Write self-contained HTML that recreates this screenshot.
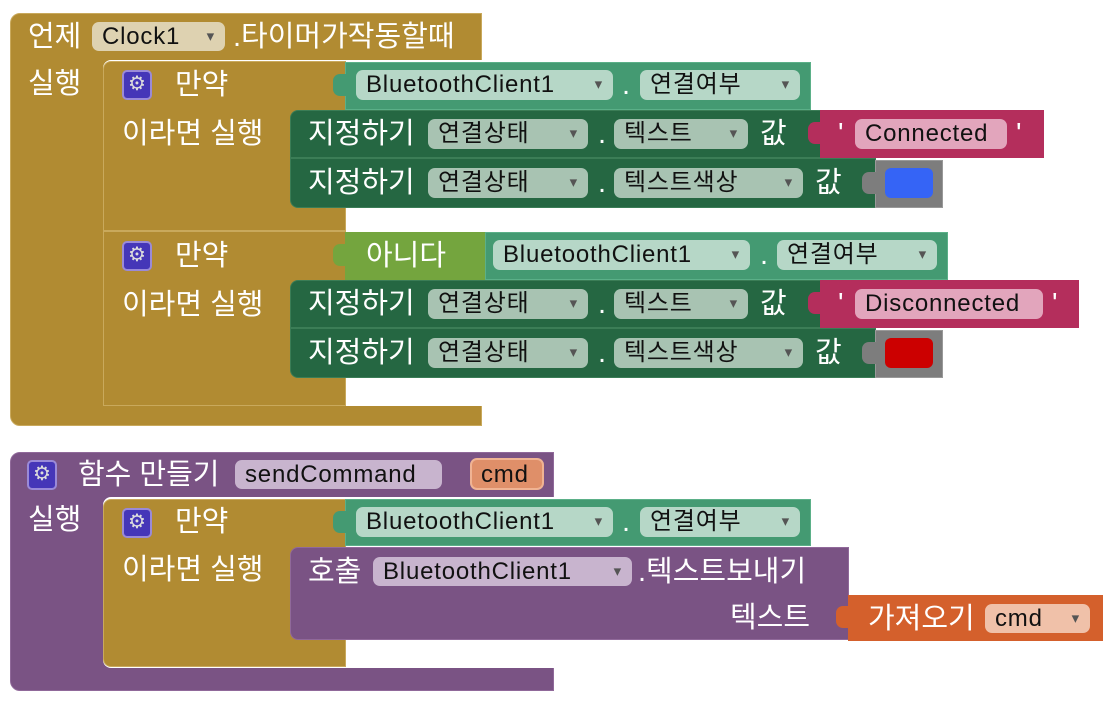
<!DOCTYPE html>
<html><head><meta charset="utf-8">
<style>
body{margin:0;width:1110px;height:703px;background:#fff;position:relative;overflow:hidden;font-family:"Liberation Sans","Noto Sans CJK KR","NanumGothic",sans-serif;}
div{position:absolute;box-sizing:border-box;}
.t{color:#fff;font-size:29px;line-height:30px;white-space:nowrap;margin-top:2px;}
.p{border-radius:7px;color:#111;font-size:24px;letter-spacing:0.8px;line-height:30px;padding-left:10px;white-space:nowrap;}
.dd::after{content:"▾";position:absolute;right:10px;top:0;font-size:15px;color:#555;}
.gold{background:#b18b32;border:1px solid #c9a95c;}
.teal{background:#449a72;border:1px solid #5bb088;}
.dg{background:#256742;border:1px solid #3b7d56;}
.pur{background:#7a5384;border:1px solid #90699a;}
.gear{width:30px;height:30px;background:#4536b8;border:2px solid #9a8ad8;border-radius:5px;color:#ddd;font-size:20px;line-height:25px;text-align:center;}
.tab{width:14px;height:22px;border-radius:7px 0 0 7px;}
</style></head><body>

<div class="gold" style="left:10px;top:13px;width:472px;height:413px;border-radius:10px 0 0 10px;"></div>
<div style="left:103px;top:60px;width:379px;height:346px;background:#fff;border-radius:8px 0 0 8px;"></div>
<div class="t" style="left:28px;top:20px;">언제</div>
<div class="p dd" style="left:92px;top:22px;width:133px;height:29px;background:#ded2b1;">Clock1</div>
<div class="t" style="left:233px;top:20px;">.타이머가작동할때</div>
<div class="t" style="left:28px;top:67px;">실행</div>

<div class="gold" style="left:103px;top:61px;width:243px;height:170px;border-radius:8px 0 0 0;"></div>
<div class="gear" style="left:122px;top:70px;">⚙</div>
<div class="t" style="left:175px;top:68px;">만약</div>
<div class="t" style="left:122px;top:117px;">이라면 실행</div>
<div class="teal" style="left:345px;top:62px;width:466px;height:48px;"></div>
<div class="tab" style="left:333px;top:74px;background:#449a72;"></div>
<div class="p dd" style="left:356px;top:70px;width:257px;height:30px;background:#b6d7c7;">BluetoothClient1</div>
<div class="t" style="left:622px;top:68px;">.</div>
<div class="p dd" style="left:640px;top:70px;width:160px;height:30px;background:#b6d7c7;">연결여부</div>

<div class="dg" style="left:290px;top:110px;width:586px;height:48px;border-radius:8px 0 0 0;"></div>
<div class="t" style="left:308px;top:117px;">지정하기</div>
<div class="p dd" style="left:428px;top:119px;width:160px;height:30px;background:#a8c3b2;">연결상태</div>
<div class="t" style="left:598px;top:117px;">.</div>
<div class="p dd" style="left:614px;top:119px;width:134px;height:30px;background:#a8c3b2;">텍스트</div>
<div class="t" style="left:760px;top:117px;">값</div>
<div style="left:820px;top:110px;width:224px;height:48px;background:#b42e5c;"></div>
<div class="tab" style="left:808px;top:122px;background:#b42e5c;"></div>
<div class="t" style="left:838px;top:117px;">'</div>
<div class="p" style="left:855px;top:119px;width:152px;height:30px;background:#e2a5bc;">Connected</div>
<div class="t" style="left:1016px;top:117px;">'</div>

<div class="dg" style="left:290px;top:158px;width:586px;height:50px;border-radius:0 0 0 8px;"></div>
<div class="t" style="left:308px;top:166px;">지정하기</div>
<div class="p dd" style="left:428px;top:168px;width:160px;height:30px;background:#a8c3b2;">연결상태</div>
<div class="t" style="left:598px;top:166px;">.</div>
<div class="p dd" style="left:614px;top:168px;width:189px;height:30px;background:#a8c3b2;">텍스트색상</div>
<div class="t" style="left:815px;top:166px;">값</div>
<div style="left:875px;top:160px;width:68px;height:48px;background:#7d7d7d;border:1px solid #999;"></div>
<div class="tab" style="left:862px;top:172px;background:#7d7d7d;"></div>
<div style="left:885px;top:168px;width:48px;height:30px;background:#3564f6;border-radius:6px;"></div>

<div class="gold" style="left:103px;top:231px;width:243px;height:175px;"></div>
<div class="gear" style="left:122px;top:241px;">⚙</div>
<div class="t" style="left:175px;top:239px;">만약</div>
<div class="t" style="left:122px;top:288px;">이라면 실행</div>
<div style="left:345px;top:232px;width:141px;height:48px;background:#74a53e;"></div>
<div class="tab" style="left:333px;top:244px;background:#74a53e;"></div>
<div class="t" style="left:366px;top:239px;">아니다</div>
<div class="teal" style="left:485px;top:232px;width:463px;height:48px;"></div>
<div class="p dd" style="left:493px;top:240px;width:257px;height:30px;background:#b6d7c7;">BluetoothClient1</div>
<div class="t" style="left:760px;top:238px;">.</div>
<div class="p dd" style="left:777px;top:240px;width:160px;height:30px;background:#b6d7c7;">연결여부</div>

<div class="dg" style="left:290px;top:280px;width:586px;height:48px;border-radius:8px 0 0 0;"></div>
<div class="t" style="left:308px;top:287px;">지정하기</div>
<div class="p dd" style="left:428px;top:289px;width:160px;height:30px;background:#a8c3b2;">연결상태</div>
<div class="t" style="left:598px;top:287px;">.</div>
<div class="p dd" style="left:614px;top:289px;width:134px;height:30px;background:#a8c3b2;">텍스트</div>
<div class="t" style="left:760px;top:287px;">값</div>
<div style="left:820px;top:280px;width:259px;height:48px;background:#b42e5c;"></div>
<div class="tab" style="left:808px;top:292px;background:#b42e5c;"></div>
<div class="t" style="left:838px;top:287px;">'</div>
<div class="p" style="left:855px;top:289px;width:188px;height:30px;background:#e2a5bc;">Disconnected</div>
<div class="t" style="left:1052px;top:287px;">'</div>

<div class="dg" style="left:290px;top:328px;width:586px;height:50px;border-radius:0 0 0 8px;"></div>
<div class="t" style="left:308px;top:336px;">지정하기</div>
<div class="p dd" style="left:428px;top:338px;width:160px;height:30px;background:#a8c3b2;">연결상태</div>
<div class="t" style="left:598px;top:336px;">.</div>
<div class="p dd" style="left:614px;top:338px;width:189px;height:30px;background:#a8c3b2;">텍스트색상</div>
<div class="t" style="left:815px;top:336px;">값</div>
<div style="left:875px;top:330px;width:68px;height:48px;background:#7d7d7d;border:1px solid #999;"></div>
<div class="tab" style="left:862px;top:342px;background:#7d7d7d;"></div>
<div style="left:885px;top:338px;width:48px;height:30px;background:#cc0000;border-radius:6px;"></div>

<div class="pur" style="left:10px;top:452px;width:544px;height:239px;border-radius:10px 0 0 10px;"></div>
<div style="left:103px;top:497px;width:451px;height:171px;background:#fff;border-radius:8px 0 0 8px;"></div>
<div class="gear" style="left:27px;top:460px;">⚙</div>
<div class="t" style="left:78px;top:458px;">함수 만들기</div>
<div class="p" style="left:235px;top:460px;width:207px;height:29px;background:#c8b4ce;">sendCommand</div>
<div class="p" style="left:470px;top:458px;width:74px;height:32px;background:#df8f69;border:2px solid #f0b393;padding-left:9px;">cmd</div>
<div class="t" style="left:28px;top:503px;">실행</div>

<div class="gold" style="left:103px;top:499px;width:243px;height:168px;border-radius:8px 0 0 8px;"></div>
<div class="gear" style="left:122px;top:508px;">⚙</div>
<div class="t" style="left:175px;top:505px;">만약</div>
<div class="t" style="left:122px;top:553px;">이라면 실행</div>
<div class="teal" style="left:345px;top:499px;width:466px;height:47px;"></div>
<div class="tab" style="left:333px;top:511px;background:#449a72;"></div>
<div class="p dd" style="left:356px;top:507px;width:257px;height:30px;background:#b6d7c7;">BluetoothClient1</div>
<div class="t" style="left:622px;top:505px;">.</div>
<div class="p dd" style="left:640px;top:507px;width:160px;height:30px;background:#b6d7c7;">연결여부</div>

<div class="pur" style="left:290px;top:547px;width:559px;height:93px;border-radius:8px 0 0 8px;"></div>
<div class="t" style="left:308px;top:555px;">호출</div>
<div class="p dd" style="left:373px;top:557px;width:259px;height:29px;background:#c8b4ce;">BluetoothClient1</div>
<div class="t" style="left:638px;top:555px;">.텍스트보내기</div>
<div class="t" style="left:730px;top:601px;">텍스트</div>
<div style="left:848px;top:595px;width:255px;height:46px;background:#d4602c;"></div>
<div class="tab" style="left:836px;top:606px;background:#d4602c;"></div>
<div class="t" style="left:868px;top:602px;">가져오기</div>
<div class="p dd" style="left:985px;top:604px;width:105px;height:29px;background:#f0c1a9;">cmd</div>

</body></html>
